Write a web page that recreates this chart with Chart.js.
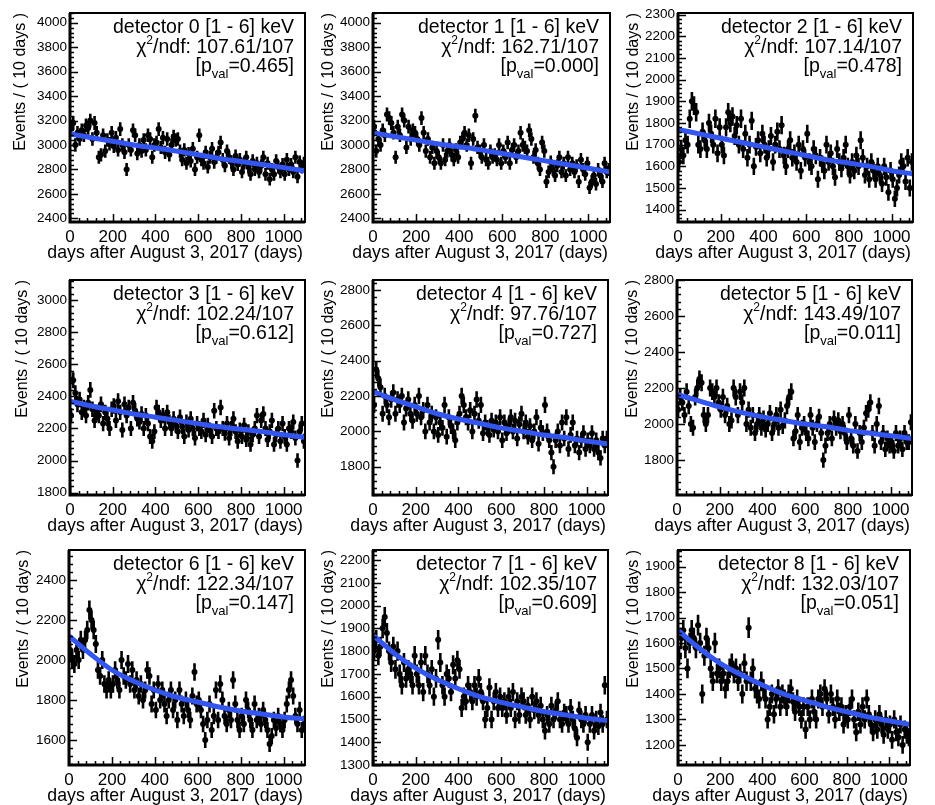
<!DOCTYPE html>
<html>
<head>
<meta charset="utf-8">
<script src="https://cdn.jsdelivr.net/npm/chart.js@4.4.0/dist/chart.umd.min.js"></script>
<style>
  body { margin: 0; background: #fff; overflow: hidden; width: 935px; height: 805px; }
  canvas { position: absolute; }
</style>
</head>
<body>
<script>
// ---- data ----
const binCenters = Array.from({ length: 110 }, (_, i) => i * 10 + 5);

const detectorLabels = [
  'detector 0 [1 - 6] keV', 'detector 1 [1 - 6] keV', 'detector 2 [1 - 6] keV',
  'detector 3 [1 - 6] keV', 'detector 4 [1 - 6] keV', 'detector 5 [1 - 6] keV',
  'detector 6 [1 - 6] keV', 'detector 7 [1 - 6] keV', 'detector 8 [1 - 6] keV'
];
const chi2Labels = ['107.61/107', '162.71/107', '107.14/107', '102.24/107', '97.76/107',
  '143.49/107', '122.34/107', '102.35/107', '132.03/107'];
const pvalLabels = ['0.465', '0.000', '0.478', '0.612', '0.727', '0.011', '0.147', '0.609', '0.051'];
const xTitle = 'days after August 3, 2017 (days)';
const yTitle = 'Events / ( 10 days )';

const xTicks = [0, 200, 400, 600, 800, 1000];
const yMin = [2370, 2370, 1343, 1785, 1640, 1606, 1475, 1300, 1121];
const yMax = [4080, 4080, 2308, 3125, 2857, 2800, 2550, 2244, 1965];
const yStep = [200, 200, 100, 200, 200, 200, 200, 100, 100];

const det0 = [3150,3180,3000,3100,3050,3120,3080,3160,3140,3200,
  3050,3180,3100,2900,2920,3080,2950,3040,3010,3100,
  2990,3060,2960,3130,3000,2940,2800,3000,2960,3120,
  3080,2930,3000,2950,3040,2960,3080,3050,2900,3000,
  3020,3130,2980,3060,2940,3050,2920,3000,3070,3040,
  3050,2950,2880,2960,2850,2930,2870,2970,2800,2900,
  3080,2880,2850,2940,2820,2900,2970,2860,2900,2940,
  3020,2880,2830,2950,2900,2860,2800,2910,2840,2880,
  2780,2850,2900,2820,2760,2870,2800,2850,2780,2830,
  2900,2760,2850,2720,2800,2760,2870,2820,2780,2840,
  2760,2880,2800,2840,2780,2900,2740,2860,2820,2850];
const det1 = [3150,2950,3050,3000,3120,3080,3250,3220,3180,3100,
  2900,3150,3080,3250,3200,2980,3150,3050,3120,3100,
  3050,3000,3220,3100,2950,3050,2900,2980,2850,2950,
  2900,2850,3000,2880,2950,3000,2920,2880,2960,2900,
  3020,3050,3100,3000,3080,2850,3050,3240,2980,2950,
  2900,3000,2880,2850,2950,2900,2920,2880,3000,2850,
  2950,2900,3020,2850,2960,3000,2900,2950,3100,3000,
  2980,2950,3120,3050,2900,2960,2850,2800,3020,2950,
  2700,2780,2860,2800,2750,2830,2900,2780,2850,2750,
  2900,2800,2850,2780,2830,2700,2880,2800,2760,2850,
  2650,2700,2750,2680,2800,2750,2700,2850,2780,2800];
const det2 = [1620,1680,1650,1720,1700,1820,1900,1880,1850,1700,
  1680,1760,1720,1680,1800,1750,1700,1820,1660,1780,
  1700,1650,1780,1850,1800,1830,1740,1790,1700,1820,
  1680,1750,1640,1700,1810,1600,1690,1720,1660,1750,
  1700,1640,1680,1740,1620,1700,1760,1680,1790,1650,
  1600,1680,1720,1640,1660,1620,1700,1580,1680,1640,
  1750,1620,1600,1680,1650,1540,1640,1610,1580,1700,
  1620,1660,1600,1550,1680,1620,1590,1640,1700,1600,
  1560,1620,1580,1650,1600,1720,1640,1560,1600,1540,
  1620,1580,1540,1600,1560,1520,1600,1550,1480,1580,
  1540,1450,1500,1560,1620,1600,1530,1640,1500,1620];
const det3 = [2280,2500,2420,2350,2380,2300,2330,2280,2360,2440,
  2320,2250,2300,2280,2350,2230,2300,2260,2200,2320,
  2340,2250,2370,2300,2190,2350,2280,2330,2200,2360,
  2310,2260,2240,2290,2200,2280,2230,2150,2120,2180,
  2330,2300,2250,2280,2200,2300,2240,2200,2260,2220,
  2180,2270,2210,2150,2240,2190,2260,2200,2140,2230,
  2200,2180,2250,2160,2220,2190,2150,2310,2200,2180,
  2330,2200,2170,2230,2140,2200,2260,2180,2120,2190,
  2150,2220,2130,2180,2100,2160,2200,2280,2150,2250,
  2290,2200,2130,2180,2250,2100,2160,2200,2120,2230,
  2150,2100,2200,2180,2240,2140,2000,2180,2230,2120];
const det4 = [2150,2350,2300,2250,2100,2200,2150,2080,2180,2220,
  2100,2180,2150,2200,2050,2130,2180,2100,2060,2150,
  2100,2200,2080,2120,2000,2150,2050,2100,2000,2080,
  1980,2050,2020,2150,1970,2080,2030,2000,1950,2050,
  2100,2200,2150,2080,2050,2120,2000,2100,2180,2060,
  2150,1990,2050,2020,1980,2060,2010,2050,2000,2080,
  1950,2050,1990,2030,2080,2000,2060,1960,2040,2100,
  2000,2050,1970,2030,1950,2000,2080,1930,2020,1990,
  2150,2000,1950,1880,1800,1950,2000,1920,2050,1960,
  2080,1900,1980,2050,1920,1960,1880,1950,1990,1900,
  1950,1920,1990,1900,1950,1880,1850,1960,1920,1960];
const det5 = [2080,2150,2120,2050,2180,2100,2000,1980,2150,2200,
  2250,2230,2050,2000,2050,2200,2180,2150,2200,2120,
  2080,2150,2050,2100,2000,2020,2200,2150,2050,2180,
  2120,2200,2000,2080,1980,2050,1950,2000,2050,1980,
  2030,1970,2000,2060,1950,2000,2050,1980,2080,1990,
  2020,2100,2150,2180,1920,1960,2050,1900,1980,2000,
  1950,1920,2050,1980,1900,2000,2040,1950,1800,1880,
  1950,2000,1920,2030,1980,2020,1960,2000,1950,1900,
  2050,1920,1880,2000,1850,1950,1900,1980,2060,2080,
  2120,1950,1880,2000,2100,1900,1950,1860,1920,1880,
  1900,1850,1950,1880,1920,1860,1950,1900,1900,2010];
const det6 = [2050,2000,1980,2050,2000,2100,2050,2100,2150,2250,
  2200,2150,2080,1950,1920,2000,1880,1850,1900,1850,
  1880,1950,1900,1850,2000,1920,1900,1980,1880,1950,
  1850,1900,1820,1880,1800,1850,1950,1920,1780,1850,
  1750,1880,1800,1850,1780,1720,1800,1850,1750,1800,
  1700,1850,1780,1720,1800,1750,1700,1820,1940,1780,
  1800,1750,1680,1600,1700,1780,1650,1720,1850,1700,
  1880,1800,1720,1680,1750,1700,1900,1780,1700,1650,
  1720,1680,1800,1750,1700,1650,1780,1700,1720,1680,
  1750,1700,1650,1580,1620,1700,1660,1720,1680,1650,
  1700,1780,1850,1900,1820,1720,1680,1750,1650,1680];
const det7 = [1800,1850,1780,1820,1900,1950,1880,1800,1750,1820,
  1720,1800,1700,1650,1750,1680,1720,1700,1650,1780,
  1700,1650,1750,1620,1780,1700,1650,1720,1600,1680,
  1850,1750,1650,1600,1700,1680,1620,1740,1680,1760,
  1720,1550,1600,1580,1650,1620,1580,1650,1600,1680,
  1620,1580,1500,1550,1640,1500,1580,1620,1550,1600,
  1550,1580,1520,1600,1550,1620,1500,1580,1520,1600,
  1580,1520,1560,1500,1600,1540,1580,1520,1560,1500,
  1450,1520,1480,1560,1500,1540,1580,1500,1480,1530,
  1520,1480,1550,1500,1460,1420,1540,1500,1480,1520,
  1400,1480,1520,1450,1500,1470,1530,1480,1650,1500];
const det8 = [1550,1620,1650,1580,1500,1600,1650,1620,1580,1670,
  1600,1400,1550,1620,1580,1500,1450,1600,1480,1500,
  1450,1480,1420,1450,1500,1520,1480,1500,1450,1480,
  1400,1520,1450,1660,1450,1500,1420,1400,1380,1450,
  1420,1380,1300,1350,1400,1320,1380,1420,1350,1400,
  1380,1350,1400,1420,1370,1330,1380,1350,1300,1350,
  1260,1350,1300,1380,1330,1300,1380,1400,1350,1420,
  1380,1320,1400,1350,1300,1380,1330,1350,1280,1320,
  1300,1350,1380,1300,1250,1330,1280,1350,1300,1380,
  1320,1280,1250,1300,1260,1320,1280,1240,1300,1260,
  1280,1220,1300,1250,1230,1280,1200,1260,1240,1230];
const counts = [det0, det1, det2, det3, det4, det5, det6, det7, det8];

// fitted curves, read at every 100 days
const fitDays = [0, 100, 200, 300, 400, 500, 600, 700, 800, 900, 1000, 1100];
const fits = [
  [3090, 3060, 3030, 3000, 2975, 2950, 2920, 2890, 2865, 2840, 2815, 2790],
  [3100, 3070, 3040, 3010, 2985, 2960, 2930, 2900, 2870, 2840, 2810, 2780],
  [1770, 1750, 1730, 1710, 1690, 1670, 1650, 1630, 1615, 1600, 1580, 1565],
  [2370, 2340, 2315, 2290, 2270, 2250, 2230, 2210, 2195, 2180, 2160, 2145],
  [2225, 2180, 2140, 2100, 2070, 2045, 2020, 2000, 1980, 1965, 1945, 1930],
  [2165, 2130, 2095, 2065, 2040, 2020, 2000, 1985, 1965, 1950, 1935, 1920],
  [2120, 2030, 1950, 1895, 1850, 1815, 1790, 1765, 1745, 1730, 1715, 1705],
  [1870, 1790, 1725, 1675, 1635, 1600, 1575, 1555, 1535, 1520, 1505, 1495],
  [1650, 1580, 1520, 1475, 1435, 1400, 1375, 1350, 1330, 1310, 1295, 1280]
];

// ---- layout: frame [left, top, right, bottom] in page pixels, y-title gap ----
const frames = [
  [70, 13, 305, 222, 50], [373, 13, 610, 222, 45], [678, 13, 913, 222, 45],
  [70, 280, 305, 495, 48], [373, 280, 608, 495, 45], [677, 280, 912, 495, 45],
  [69, 550, 305, 765, 46], [373, 550, 608, 765, 45], [678, 550, 910, 765, 45]
];

const FONT = '"Liberation Sans", Arial, Helvetica, sans-serif';
Chart.defaults.font.family = FONT;
Chart.defaults.color = '#000';

function drawSegments(ctx, segs, right, base) {
  let total = 0;
  segs.forEach(s => { ctx.font = s.size + 'px ' + FONT; s.w = ctx.measureText(s.t).width; total += s.w; });
  let x = right - total;
  segs.forEach(s => {
    ctx.font = s.size + 'px ' + FONT;
    ctx.fillText(s.t, x, base + (s.dy || 0));
    x += s.w;
  });
}

const rootStyle = {
  id: 'rootStyle',
  beforeDatasetsDraw(chart) {
    const { ctx, chartArea: a, scales: { x, y } } = chart;
    const vals = counts[chart.options.plugins.rootStyle.idx];
    ctx.save();
    ctx.beginPath();
    ctx.rect(a.left, a.top, a.right - a.left, a.bottom - a.top);
    ctx.clip();
    ctx.strokeStyle = '#000';
    ctx.lineWidth = 2.6;
    ctx.beginPath();
    vals.forEach((v, k) => {
      const d = binCenters[k], e = Math.sqrt(v);
      const px = x.getPixelForValue(d);
      ctx.moveTo(px, y.getPixelForValue(v - e));
      ctx.lineTo(px, y.getPixelForValue(v + e));
      ctx.moveTo(x.getPixelForValue(d - 5), y.getPixelForValue(v));
      ctx.lineTo(x.getPixelForValue(d + 5), y.getPixelForValue(v));
    });
    ctx.stroke();
    ctx.restore();
  },
  afterDraw(chart) {
    const { ctx, chartArea: a, scales: { x, y } } = chart;
    const i = chart.options.plugins.rootStyle.idx;
    ctx.save();
    // ticks inside the frame
    ctx.strokeStyle = '#000';
    ctx.lineWidth = 1.5;
    ctx.beginPath();
    const ys = yStep[i], ym = ys / 5;
    for (let v = Math.ceil(y.min / ym) * ym; v <= y.max; v += ym) {
      const py = Math.round(y.getPixelForValue(v)) + 0.5;
      const len = (Math.abs(v % ys) < 1e-6) ? 8 : 4;
      ctx.moveTo(a.left, py); ctx.lineTo(a.left + len, py);
    }
    for (let v = 0; v <= 1100; v += 40) {
      const px = Math.round(x.getPixelForValue(v)) + 0.5;
      const len = (v % 200 === 0) ? 8 : 4;
      ctx.moveTo(px, a.bottom); ctx.lineTo(px, a.bottom - len);
    }
    ctx.stroke();
    // frame
    ctx.lineWidth = 2;
    ctx.strokeRect(a.left, a.top, a.right - a.left, a.bottom - a.top);
    ctx.lineWidth = 3;
    ctx.beginPath();
    ctx.moveTo(a.left, a.top); ctx.lineTo(a.left, a.bottom); ctx.lineTo(a.right, a.bottom);
    ctx.stroke();
    ctx.fillStyle = '#000';
    ctx.textBaseline = 'alphabetic';
    ctx.textAlign = 'left';
    // x axis title, right aligned to the frame, may run past its left edge
    drawSegments(ctx, [{ t: xTitle, size: 17.7 }], a.right - 2, a.bottom + 36);
    // statistics text
    const r = a.right - 11;
    drawSegments(ctx, [{ t: detectorLabels[i], size: 19.5 }], r, a.top + 20);
    drawSegments(ctx, [{ t: 'χ', size: 19.5 }, { t: '2', size: 12, dy: -9 },
      { t: '/ndf: ' + chi2Labels[i], size: 19.5 }], r, a.top + 40);
    drawSegments(ctx, [{ t: '[p', size: 19.5 }, { t: 'val', size: 13, dy: 6 },
      { t: '=' + pvalLabels[i] + ']', size: 19.5 }], r, a.top + 59);
    ctx.restore();
  }
};

function makePanel(i) {
  const f = frames[i];
  const w = f[2] - f[0] + 78, h = f[3] - f[1] + 58;
  const cv = document.createElement('canvas');
  cv.width = w; cv.height = h;
  cv.style.left = (f[0] - 70) + 'px';
  cv.style.top = (f[1] - 13) + 'px';
  cv.style.width = w + 'px';
  cv.style.height = h + 'px';
  document.body.appendChild(cv);
  const step = yStep[i];

  new Chart(cv, {
    type: 'scatter',
    data: {
      datasets: [
        {
          type: 'line',
          data: fitDays.map((d, k) => ({ x: d, y: fits[i][k] })),
          borderColor: 'rgb(52, 86, 240)',
          borderWidth: 5,
          pointRadius: 0,
          cubicInterpolationMode: 'monotone',
          fill: false
        },
        {
          data: counts[i].map((v, k) => ({ x: binCenters[k], y: v })),
          pointRadius: 3,
          pointBackgroundColor: '#000',
          pointBorderWidth: 0
        }
      ]
    },
    options: {
      responsive: false,
      animation: false,
      events: [],
      layout: { padding: { top: 13, right: 8, left: 0, bottom: 0 } },
      plugins: { legend: { display: false }, tooltip: { enabled: false }, rootStyle: { idx: i } },
      scales: {
        x: {
          type: 'linear', min: 0, max: 1100,
          grid: { display: false, drawTicks: false, tickLength: 0 }, border: { display: false },
          ticks: { padding: 5, font: { size: 17 }, maxRotation: 0, autoSkip: false,
            callback: v => String(v) },
          afterBuildTicks: s => { s.ticks = xTicks.map(v => ({ value: v })); },
          afterFit: s => { s.height = 45; }
        },
        y: {
          min: yMin[i], max: yMax[i],
          grid: { display: false, drawTicks: false, tickLength: 0 }, border: { display: false },
          ticks: { padding: 3, font: { size: 13.5 }, autoSkip: false, callback: v => String(v) },
          afterBuildTicks: s => {
            const t = [];
            for (let v = Math.ceil(yMin[i] / step) * step; v <= yMax[i]; v += step) t.push({ value: v });
            s.ticks = t;
          },
          afterFit: s => { s.width = 70; },
          title: { display: true, text: yTitle, align: 'end',
            font: { size: 16 }, padding: { top: 70 - f[4] - 9, bottom: 0 } }
        }
      }
    },
    plugins: [rootStyle]
  });
}

for (let i = 0; i < 9; i++) makePanel(i);
</script>
</body>
</html>
